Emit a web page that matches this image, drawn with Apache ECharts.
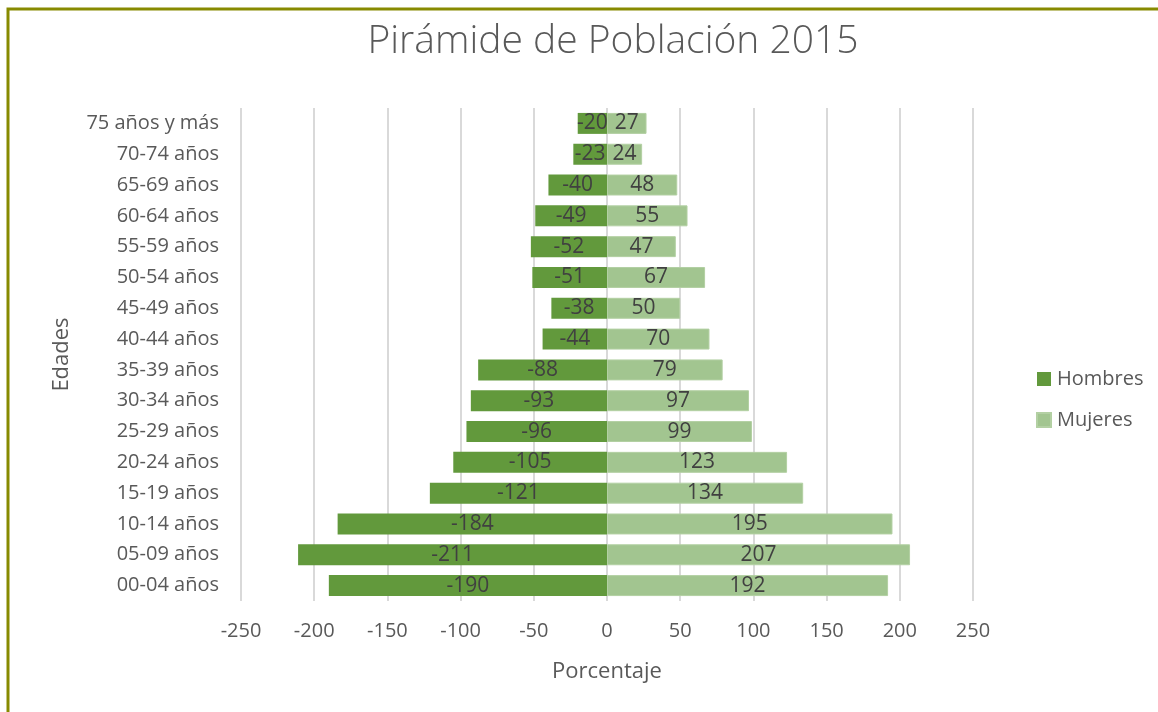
<!DOCTYPE html>
<html>
<head>
<meta charset="utf-8">
<script src="https://cdn.jsdelivr.net/npm/echarts@6/dist/echarts.min.js"></script>
<style>
  html, body { margin: 0; padding: 0; background: #fff; }
  #main { width: 1158px; height: 712px; }
</style>
</head>
<body>
<div id="main"></div>
<script>
var edades = ["00-04 años", "05-09 años", "10-14 años", "15-19 años", "20-24 años", "25-29 años",
  "30-34 años", "35-39 años", "40-44 años", "45-49 años", "50-54 años", "55-59 años",
  "60-64 años", "65-69 años", "70-74 años", "75 años y más"];
var hombres = [-190, -211, -184, -121, -105, -96, -93, -88, -44, -38, -51, -52, -49, -40, -23, -20];
var mujeres = [192, 207, 195, 134, 123, 99, 97, 79, 70, 50, 67, 47, 55, 48, 24, 27];
var xTicks = [-250, -200, -150, -100, -50, 0, 50, 100, 150, 200, 250];

var chartDom = document.getElementById("main");
var myChart = echarts.init(chartDom);
var font = "'Open Sans', 'Noto Sans', sans-serif";
var textColor = "#595959";

var option = {
  animation: false,
  textStyle: { fontFamily: font },
  graphic: [
    {
      type: "rect",
      shape: { x: 8, y: 9, width: 1200, height: 800 },
      style: { fill: "none", stroke: "#878a00", lineWidth: 3 },
      silent: true,
    },
  ],
  title: {
    text: "Pirámide de Población 2015",
    left: 608,
    textAlign: "center",
    top: 17,
    textStyle: { fontFamily: font, fontSize: 39, fontWeight: 300, color: textColor },
  },
  legend: {
    orient: "vertical",
    left: 1031,
    top: 364,
    itemGap: 21,
    itemWidth: 14,
    itemHeight: 14,
    icon: "rect",
    textStyle: { fontFamily: font, fontSize: 20, color: textColor, padding: [0, 0, 0, 1] },
    data: ["Hombres", "Mujeres"],
  },
  grid: { left: 241, right: 185, top: 108, bottom: 111, containLabel: false },
  xAxis: {
    type: "value",
    min: xTicks[0],
    max: xTicks[xTicks.length - 1],
    interval: 50,
    name: "Porcentaje",
    nameLocation: "middle",
    nameGap: 60,
    nameTextStyle: { fontFamily: font, fontSize: 22, color: textColor },
    axisLine: { show: false },
    axisTick: { show: false },
    axisLabel: { fontFamily: font, fontSize: 20, color: textColor, margin: 20 },
    splitLine: { lineStyle: { color: "#d9d9d9", width: 2 } },
  },
  yAxis: {
    type: "category",
    data: edades,
    name: "Edades",
    nameLocation: "middle",
    nameGap: 168,
    nameRotate: 90,
    nameTextStyle: { fontFamily: font, fontSize: 22, color: textColor },
    axisLine: { show: false },
    axisTick: { show: false },
    axisLabel: { fontFamily: font, fontSize: 20, color: textColor, margin: 22 },
  },
  series: [
    {
      name: "Hombres",
      type: "bar",
      stack: "total",
      barCategoryGap: "32%",
      data: hombres,
      itemStyle: { color: "#62993c" },
      label: { show: true, position: "inside", fontFamily: font, fontSize: 21, color: "#404040" },
    },
    {
      name: "Mujeres",
      type: "bar",
      stack: "total",
      barCategoryGap: "32%",
      data: mujeres,
      itemStyle: { color: "#a2c590", borderColor: "#b3d0a3", borderWidth: 1 },
      label: { show: true, position: "inside", fontFamily: font, fontSize: 21, color: "#404040" },
    },
  ],
};
myChart.setOption(option);
</script>
</body>
</html>
